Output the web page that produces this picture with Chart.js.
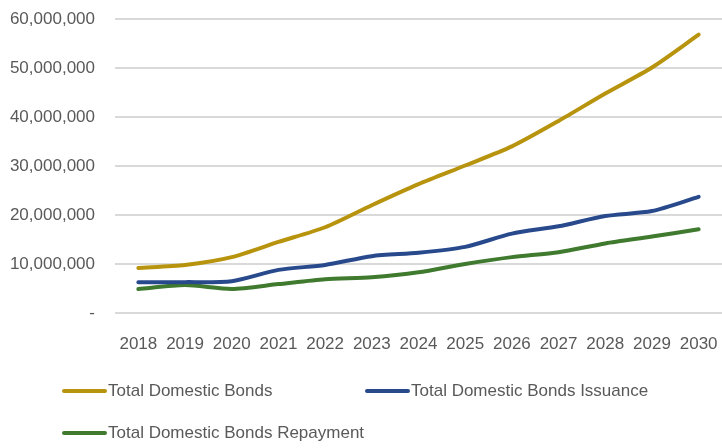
<!DOCTYPE html>
<html lang="en">
    <head>
        <meta charset="UTF-8" />
        <title>Total Domestic Bonds</title>
        <style>
            body {
                margin: 0;
                background: #fff;
                font-family: "Liberation Sans", Arial, sans-serif;
            }
            #wrap {
                position: relative;
                width: 722px;
                height: 448px;
            }
            .legend-item {
                position: absolute;
                display: flex;
                align-items: center;
                font-size: 17px;
                color: #595959;
                white-space: nowrap;
            }
            .legend-item .swatch {
                width: 45px;
                height: 4px;
                border-radius: 2px;
                margin-right: 1px;
            }
        </style>
    </head>
    <body>
        <div id="wrap">
            <canvas id="bondsChart" width="722" height="448"></canvas>
            <div id="legend"></div>
        </div>

        <script src="https://cdn.jsdelivr.net/npm/chart.js"></script>
        <script>
            // Years on the x axis
            const years = [
                "2018", "2019", "2020", "2021", "2022", "2023", "2024",
                "2025", "2026", "2027", "2028", "2029", "2030",
            ];

            // Series values
            const totalBonds = [
                9200000, 9800000, 11400000, 14500000, 17500000, 22000000,
                26300000, 30100000, 34000000, 39200000, 44800000, 50100000,
                56800000,
            ];
            const bondsIssuance = [
                6300000, 6300000, 6500000, 8800000, 9800000, 11600000,
                12300000, 13500000, 16200000, 17700000, 19800000, 20800000,
                23700000,
            ];
            const bondsRepayment = [
                4900000, 5700000, 4900000, 5900000, 6900000, 7300000,
                8300000, 10000000, 11400000, 12400000, 14200000, 15600000,
                17100000,
            ];

            const seriesNames = [
                "Total Domestic Bonds",
                "Total Domestic Bonds Issuance",
                "Total Domestic Bonds Repayment",
            ];
            const seriesColors = ["#B8940E", "#284A8C", "#3F7A2F"];
            const seriesData = [totalBonds, bondsIssuance, bondsRepayment];

            // y axis ticks: 0 .. 60 million, every 10 million
            const yTicks = [0, 10000000, 20000000, 30000000, 40000000, 50000000, 60000000];

            const grey = "#595959";

            const ctx = document.getElementById("bondsChart").getContext("2d");
            const bondsChart = new Chart(ctx, {
                type: "line",
                data: {
                    labels: years,
                    datasets: seriesData.map((d, i) => ({
                        label: seriesNames[i],
                        data: d,
                        borderColor: seriesColors[i],
                        backgroundColor: seriesColors[i],
                        borderWidth: 4,
                        borderCapStyle: "round",
                        pointRadius: 0,
                        tension: 0.25,
                        fill: false,
                    })),
                },
                options: {
                    responsive: false,
                    animation: false,
                    layout: {
                        padding: { top: 19, right: 0, bottom: 85, left: 0 },
                    },
                    plugins: {
                        legend: { display: false },
                        tooltip: { enabled: false },
                    },
                    scales: {
                        x: {
                            offset: true,
                            grid: { display: false },
                            border: { display: false },
                            ticks: {
                                color: grey,
                                font: { size: 17, family: "Liberation Sans" },
                                padding: 13,
                                maxRotation: 0,
                                autoSkip: false,
                            },
                            afterFit: (scale) => {
                                scale.height = 50;
                                scale.paddingLeft = 0;
                                scale.paddingRight = 0;
                            },
                        },
                        y: {
                            min: yTicks[0],
                            max: yTicks[yTicks.length - 1],
                            afterBuildTicks: (scale) => {
                                scale.ticks = yTicks.map((v) => ({ value: v }));
                            },
                            grid: {
                                color: "#d9d9d9",
                                lineWidth: 2,
                                drawTicks: false,
                            },
                            border: { display: false },
                            ticks: {
                                color: grey,
                                font: { size: 17, family: "Liberation Sans" },
                                padding: 20,
                                callback: (v) =>
                                    v === 0 ? "-" : v.toLocaleString("en-US"),
                            },
                            afterFit: (scale) => {
                                scale.width = 115;
                                scale.paddingTop = 0;
                                scale.paddingBottom = 0;
                            },
                        },
                    },
                },
            });

            // Legend below the plot, two columns
            const legendSpots = [
                { left: 62, top: 381 },
                { left: 365, top: 381 },
                { left: 62, top: 423 },
            ];
            const legend = document.getElementById("legend");
            seriesNames.forEach((name, i) => {
                const item = document.createElement("div");
                item.className = "legend-item";
                item.style.left = legendSpots[i].left + "px";
                item.style.top = legendSpots[i].top + "px";
                item.innerHTML = `<span class="swatch" style="background:${seriesColors[i]}"></span><span>${name}</span>`;
                legend.appendChild(item);
            });
        </script>
    </body>
</html>
